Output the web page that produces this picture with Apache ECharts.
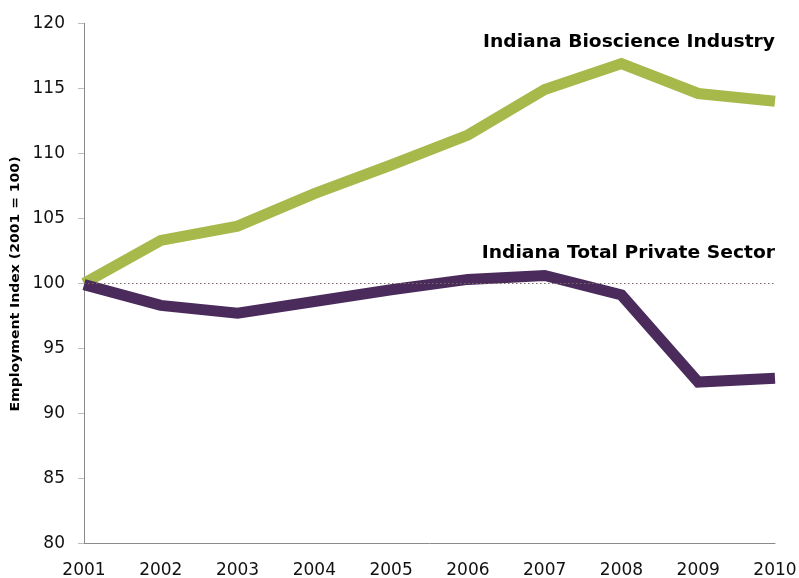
<!DOCTYPE html>
<html>
<head>
<meta charset="utf-8">
<script src="https://cdn.jsdelivr.net/npm/echarts@6/dist/echarts.min.js"></script>
<style>html,body{margin:0;padding:0;background:#fff}#c{width:799px;height:578px}</style>
</head>
<body>
<div id="c"></div>
<script>
var years = ['2001','2002','2003','2004','2005','2006','2007','2008','2009','2010'];
var bioscience = [100.0, 103.3, 104.4, 106.9, 109.1, 111.4, 114.9, 116.9, 114.6, 114.0];
var privateSector = [99.9, 98.3, 97.7, 98.6, 99.5, 100.3, 100.6, 99.1, 92.4, 92.7];
var baseline = 100;
var bioName = 'Indiana Bioscience Industry';
var privName = 'Indiana Total Private Sector';
var yTitle = 'Employment Index (2001 = 100)';

var FONT = '"DejaVu Sans", Verdana, sans-serif';
var chart = echarts.init(document.getElementById('c'), null, {renderer: 'canvas'});
chart.setOption({
  animation: false,
  backgroundColor: '#ffffff',
  grid: {left: 84, right: 24, top: 23.3, bottom: 34.7, containLabel: false, outerBoundsMode: 'none'},
  xAxis: {
    type: 'category',
    data: years,
    boundaryGap: false,
    axisLine: {lineStyle: {color: '#8a8a8a', width: 1}},
    axisTick: {show: false},
    axisLabel: {color: '#111', fontSize: 17, fontFamily: FONT, margin: 19},
    splitLine: {show: false}
  },
  yAxis: {
    type: 'value',
    min: 80, max: 120, interval: 5,
    axisLine: {show: true, lineStyle: {color: '#8a8a8a', width: 1}},
    axisTick: {show: true, inside: false, length: 6, lineStyle: {color: '#bdbdbd'}},
    axisLabel: {color: '#111', fontSize: 17, fontFamily: FONT, margin: 19},
    splitLine: {show: false}
  },
  graphic: [
    {type: 'text', x: 775, y: 43, scaleX: 1.1, z: 10,
     style: {text: bioName, fill: '#000', font: 'bold 17px ' + FONT, textAlign: 'right', textVerticalAlign: 'middle'}},
    {type: 'text', x: 775, y: 253.5, scaleX: 1.1, z: 10,
     style: {text: privName, fill: '#000', font: 'bold 17px ' + FONT, textAlign: 'right', textVerticalAlign: 'middle'}},
    {type: 'text', x: 16, y: 284, rotation: Math.PI / 2, scaleX: 1.17, z: 10,
     style: {text: yTitle, fill: '#000', font: 'bold 12px ' + FONT, textAlign: 'center', textVerticalAlign: 'middle'}}
  ],
  series: [
    {
      name: bioName,
      type: 'line',
      data: bioscience,
      symbol: 'none',
      lineStyle: {color: '#a6b94a', width: 11, join: 'miter'},
      z: 2
    },
    {
      name: privName,
      type: 'line',
      data: privateSector,
      symbol: 'none',
      lineStyle: {color: '#4a2b5c', width: 11, join: 'miter'},
      z: 3,
      markLine: {
        silent: true,
        symbol: 'none',
        label: {show: false},
        lineStyle: {color: '#7d6b6b', width: 1.2, type: [1.5, 2.5]},
        data: [{yAxis: baseline}]
      }
    }
  ]
});
</script>
</body>
</html>
